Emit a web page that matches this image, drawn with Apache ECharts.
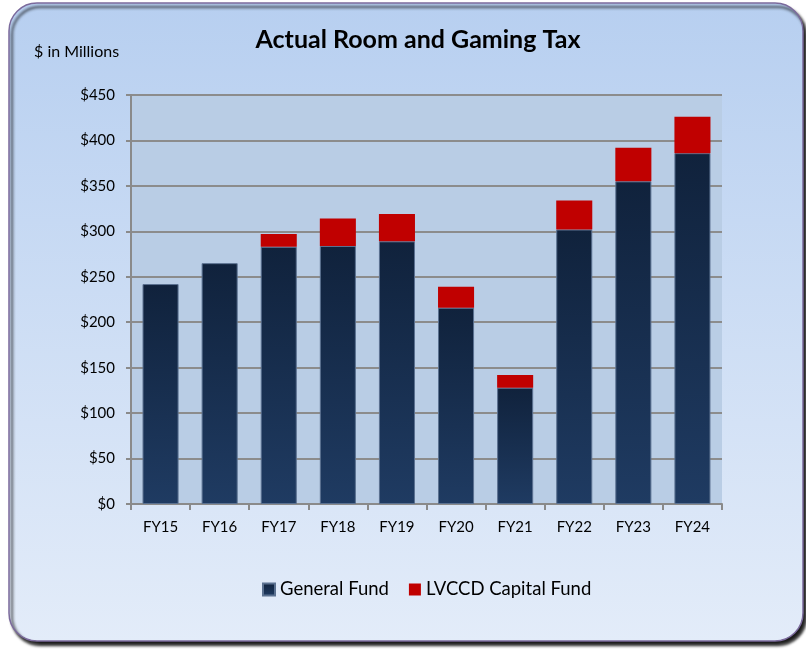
<!DOCTYPE html>
<html>
<head>
<meta charset="utf-8">
<script src="https://cdn.jsdelivr.net/npm/echarts@6/dist/echarts.min.js"></script>
<style>
  html, body { margin: 0; padding: 0; background: #ffffff; }
  #main { width: 806px; height: 649px; }
</style>
</head>
<body>
<div id="main"></div>
<script>
const years = ['FY15', 'FY16', 'FY17', 'FY18', 'FY19', 'FY20', 'FY21', 'FY22', 'FY23', 'FY24']
const generalFund = [242, 265, 283, 284, 289, 216, 128, 302, 355, 386]
const lvccdFund = [0, 0, 14, 30, 30, 23, 14, 32, 37, 40]
const yTicks = [0, 50, 100, 150, 200, 250, 300, 350, 400, 450]

const font = 'Lato, "Open Sans", sans-serif'
const chart = echarts.init(document.getElementById('main'))

chart.setOption({
  animation: false,
  textStyle: { fontFamily: font },
  graphic: [
    {
      type: 'rect',
      z: -10,
      shape: { x: 9, y: 3, width: 794, height: 638, r: 28 },
      style: {
        fill: new echarts.graphic.LinearGradient(0, 0, 0, 1, [
          { offset: 0, color: '#b7cff0' },
          { offset: 1, color: '#e3ecf9' }
        ]),
        stroke: '#7b6a9c',
        lineWidth: 1.5,
        shadowColor: 'rgba(0,0,0,0.9)',
        shadowBlur: 3,
        shadowOffsetX: 3,
        shadowOffsetY: 4
      }
    },
    {
      type: 'text',
      left: 34, top: 44,
      style: { text: '$ in Millions', font: '16px ' + font, fill: '#000' }
    }
  ],
  title: {
    text: 'Actual Room and Gaming Tax',
    left: 413, top: 22, textAlign: 'center',
    textStyle: { fontSize: 25, fontWeight: 'bold', color: '#000', fontFamily: font }
  },
  legend: {
    left: 257, top: 575,
    itemWidth: 12, itemHeight: 12, itemGap: 20,
    icon: 'rect',
    textStyle: { fontSize: 18.5, color: '#000', fontFamily: font },
    data: ['General Fund', 'LVCCD Capital Fund']
  },
  grid: {
    left: 131, right: 84, top: 95, bottom: 145,
    show: true, backgroundColor: '#b9cde5', borderWidth: 0
  },
  xAxis: {
    type: 'category',
    data: years,
    axisLine: { lineStyle: { color: '#8a8a8a', width: 2 } },
    axisTick: { show: true, length: 6, lineStyle: { color: '#8a8a8a', width: 2 } },
    axisLabel: { fontSize: 15, color: '#000', margin: 16 }
  },
  yAxis: {
    type: 'value',
    min: 0, max: 450, interval: 50,
    axisLine: { show: true, lineStyle: { color: '#8a8a8a', width: 2 } },
    axisTick: { show: true, length: 5, lineStyle: { color: '#8a8a8a', width: 2 } },
    splitLine: { lineStyle: { color: '#8c8c8c', width: 2 } },
    axisLabel: {
      fontSize: 15, color: '#000', margin: 16,
      formatter: v => yTicks.includes(v) ? '$' + v : ''
    }
  },
  series: [
    {
      name: 'General Fund',
      type: 'bar',
      stack: 'tax',
      data: generalFund,
      barWidth: '61%',
      itemStyle: {
        color: new echarts.graphic.LinearGradient(0, 0, 0, 1, [
          { offset: 0, color: '#10223c' },
          { offset: 1, color: '#1f3b62' }
        ]),
        borderColor: '#5b7190',
        borderWidth: 1
      }
    },
    {
      name: 'LVCCD Capital Fund',
      type: 'bar',
      stack: 'tax',
      data: lvccdFund,
      barWidth: '61%',
      itemStyle: { color: '#c00000' }
    }
  ]
})
</script>
</body>
</html>
